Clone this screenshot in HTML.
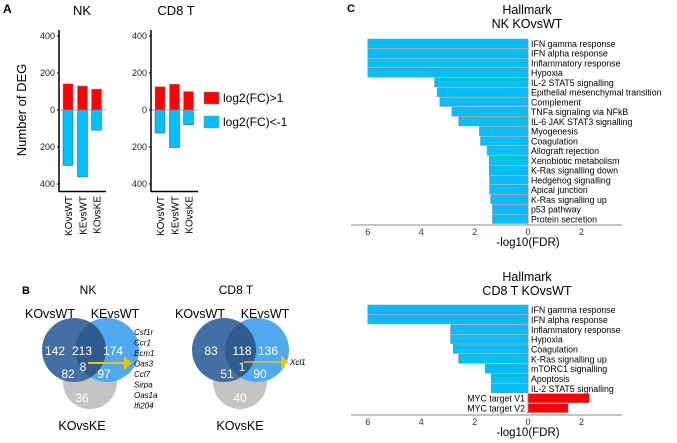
<!DOCTYPE html>
<html><head><meta charset="utf-8"><style>
body{margin:0;background:#fff}
svg{font-family:"Liberation Sans",Arial,sans-serif;display:block}
</style></head><body>
<svg id="fig" width="677" height="443" viewBox="0 0 677 443">
<defs>
<clipPath id="nkL"><circle cx="74" cy="350" r="32"/></clipPath>
<clipPath id="cdL"><circle cx="224" cy="350" r="32"/></clipPath>
</defs>
<g id="A">
<text x="3" y="13" font-size="12" font-weight="bold">A</text>
<text x="82" y="15" font-size="13" text-anchor="middle">NK</text>
<text x="176" y="15" font-size="13" text-anchor="middle">CD8 T</text>
<text transform="translate(26,110) rotate(-90)" font-size="13" text-anchor="middle">Number of DEG</text>
<rect x="204" y="92" width="15" height="12" fill="#f00" stroke="#888" stroke-width="0.5"/>
<text x="223" y="102" font-size="12">log2(FC)&gt;1</text>
<rect x="204" y="116" width="15" height="12" fill="#00bfff" stroke="#888" stroke-width="0.5"/>
<text x="223" y="126" font-size="12">log2(FC)&lt;-1</text>
</g>
<g id="B">
<text x="22" y="294" font-size="11" font-weight="bold">B</text>
<text x="88" y="294" font-size="12" text-anchor="middle">NK</text>
<text x="236" y="294" font-size="12" text-anchor="middle">CD8 T</text>
<g>
<text x="50" y="318" font-size="12.5" text-anchor="middle">KOvsWT</text>
<text x="115" y="318" font-size="12.5" text-anchor="middle">KEvsWT</text>
<circle cx="90" cy="382" r="27" fill="#c3c3c3"/>
<circle cx="74" cy="350" r="32" fill="#436fa2"/>
<circle cx="107" cy="350" r="32" fill="#4ea9f0"/>
<circle cx="107" cy="350" r="32" fill="#2f5b8e" clip-path="url(#nkL)"/>
<g fill="#fff" font-size="12" text-anchor="middle">
<text x="55" y="355">142</text><text x="82" y="355">213</text><text x="113" y="355">174</text>
<text x="68" y="378">82</text><text x="83" y="371">8</text><text x="104" y="378">97</text><text x="82" y="402">36</text></g>
<line x1="88" y1="363" x2="124" y2="363" stroke="#f5c000" stroke-width="2"/>
<polygon points="124,356 132,363 124,370" fill="#f5c000"/>
<g font-size="8" font-style="italic">
<text x="134" y="335">Csf1r</text><text x="134" y="345.5">Ccr1</text><text x="134" y="356">Ecm1</text><text x="134" y="366.5">Oas3</text><text x="134" y="377">Ccl7</text><text x="134" y="387.5">Sirpa</text><text x="134" y="398">Oas1a</text><text x="134" y="408.5">Ifi204</text></g>
<text x="82" y="430" font-size="12.5" text-anchor="middle">KOvsKE</text>
</g>
<g>
<text x="200" y="318" font-size="12.5" text-anchor="middle">KOvsWT</text>
<text x="265" y="318" font-size="12.5" text-anchor="middle">KEvsWT</text>
<circle cx="240" cy="382" r="27" fill="#c3c3c3"/>
<circle cx="224" cy="350" r="32" fill="#436fa2"/>
<circle cx="257" cy="350" r="32" fill="#4ea9f0"/>
<circle cx="257" cy="350" r="32" fill="#2f5b8e" clip-path="url(#cdL)"/>
<g fill="#fff" font-size="12" text-anchor="middle">
<text x="211" y="355">83</text><text x="242" y="355">118</text><text x="268" y="355">136</text>
<text x="227" y="378">51</text><text x="242" y="371">1</text><text x="260" y="378">90</text><text x="240" y="402">40</text></g>
<line x1="244" y1="362" x2="281" y2="362" stroke="#f5c000" stroke-width="1.5"/>
<polygon points="281,355 288,362 281,369" fill="#f5c000"/>
<text x="290" y="365" font-size="8" font-style="italic">Xcl1</text>
<text x="240" y="430" font-size="12.5" text-anchor="middle">KOvsKE</text>
</g>
</g>
<g id="C">
<text x="347" y="12" font-size="11" font-weight="bold">C</text>
<text x="527" y="14" font-size="12.5" text-anchor="middle">Hallmark</text>
<text x="527" y="28" font-size="12.5" text-anchor="middle">NK KOvsWT</text>
<text x="527" y="281" font-size="12.5" text-anchor="middle">Hallmark</text>
<text x="527" y="295" font-size="12.5" text-anchor="middle">CD8 T KOvsWT</text>
</g>
</svg>
<script>
const degCats=["KOvsWT","KEvsWT","KOvsKE"];
const nkUp=[142,130,113];
const nkDown=[300,362,110];
const cd8Up=[126,140,100];
const cd8Down=[125,203,80];
const degTicks=[400,200,0,200,400];

const nkTerms=["IFN gamma response","IFN alpha response","Inflammatory response","Hypoxia","IL-2 STAT5 signalling","Epithelial mesenchymal transition","Complement","TNFa signaling via NFkB","IL-6 JAK STAT3 signalling","Myogenesis","Coagulation","Allograft rejection","Xenobiotic metabolism","K-Ras signalling down","Hedgehog signalling","Apical junction","K-Ras signalling up","p53 pathway","Protein secretion"];
const nkFdr=[6,6,6,6,3.5,3.4,3.3,2.85,2.6,1.82,1.78,1.53,1.45,1.45,1.44,1.44,1.4,1.33,1.33];
const cd8Terms=["IFN gamma response","IFN alpha response","Inflammatory response","Hypoxia","Coagulation","K-Ras signalling up","mTORC1 signalling","Apoptosis","IL-2 STAT5 signalling","MYC target V1","MYC target V2"];
const cd8Fdr=[6,6,2.9,2.9,2.8,2.6,1.6,1.38,1.38,-2.3,-1.5];
const fdrTicks=[6,4,2,0,2];

const NS="http://www.w3.org/2000/svg";
const svg=document.getElementById('fig');
function mk(tag,attrs,parent,text){const e=document.createElementNS(NS,tag);for(const k in attrs)e.setAttribute(k,attrs[k]);if(text!==undefined)e.textContent=text;(parent||svg).appendChild(e);return e;}

function degChart(ax,up,down,name){
  const zero=110,s=37/200;
  const y=v=>zero-v*s;
  const g=mk('g',{});
  
  
  degTicks.forEach((t,i)=>{const yy=zero+(i-2)*37;
    const tx=mk('text',{x:ax-4,y:yy+3,'font-size':9,'text-anchor':'end',fill:'#222'},g,String(t));
    
    
    mk('line',{x1:ax-2,y1:yy,x2:ax,y2:yy,stroke:'#000'},g);});
  const xs=[ax+4,ax+18.5,ax+32.5];
  degCats.forEach((c,i)=>{
    const r1=mk('rect',{x:xs[i],y:y(up[i]),width:10,height:up[i]*s,fill:'#f00',stroke:'#999','stroke-width':0.5},g);
    
    
    const r2=mk('rect',{x:xs[i],y:zero,width:10,height:down[i]*s,fill:'#00bfff',stroke:'#555','stroke-width':0.5},g);
    
    
    const t=mk('text',{transform:`translate(${xs[i]+9},196) rotate(-90)`,'font-size':10,'text-anchor':'end'},g,c);
    
    
  });
  mk('line',{x1:ax,y1:zero,x2:ax+47,y2:zero,stroke:'#888','stroke-width':0.7},g);
  mk('line',{x1:ax,y1:30,x2:ax,y2:192,stroke:'#000','stroke-width':1.5},g);
  mk('line',{x1:ax,y1:191.5,x2:ax+47,y2:191.5,stroke:'#000','stroke-width':1.5},g);
}
degChart(59,nkUp,nkDown,'nk');
degChart(151,cd8Up,cd8Down,'cd8');

function fdrChart(terms,vals,top,pitch,axisY,name){
  const zx=528,s=26.7;
  const x=v=>zx-v*s;
  const g=mk('g',{});
  
  
  terms.forEach((t,i)=>{
    const v=vals[i],yy=top+i*pitch;
    const r=mk('rect',{x:Math.min(x(v),zx),y:yy,width:Math.abs(v)*s,height:pitch-0.8,fill:v>=0?'#00bfff':'#f00',stroke:'#888','stroke-width':0.5},g);
    
    
    const lab=mk('text',{x:v>=0?zx+3:zx-3,y:yy+pitch-1.8,'font-size':8.8,'text-anchor':v>=0?'start':'end'},g,t);
    
    
  });
  mk('line',{x1:351,y1:axisY,x2:622,y2:axisY,stroke:'#888','stroke-width':1},g);
  mk('line',{x1:zx,y1:top,x2:zx,y2:axisY,stroke:'#888','stroke-width':0.7},g);
  fdrTicks.forEach((t,i)=>{const xx=zx+(i-3)*2*s;
    const tx=mk('text',{x:xx,y:axisY+10,'font-size':9,'text-anchor':'middle',fill:'#333'},g,String(t));
    
    });
  const xl=mk('text',{x:528,y:axisY+21,'font-size':11.5,'text-anchor':'middle'},g,'-log10(FDR)');
  
  
}
fdrChart(nkTerms,nkFdr,39,9.75,225,'nk');
fdrChart(cd8Terms,cd8Fdr,305,9.85,415,'cd8');
</script>
</body></html>
